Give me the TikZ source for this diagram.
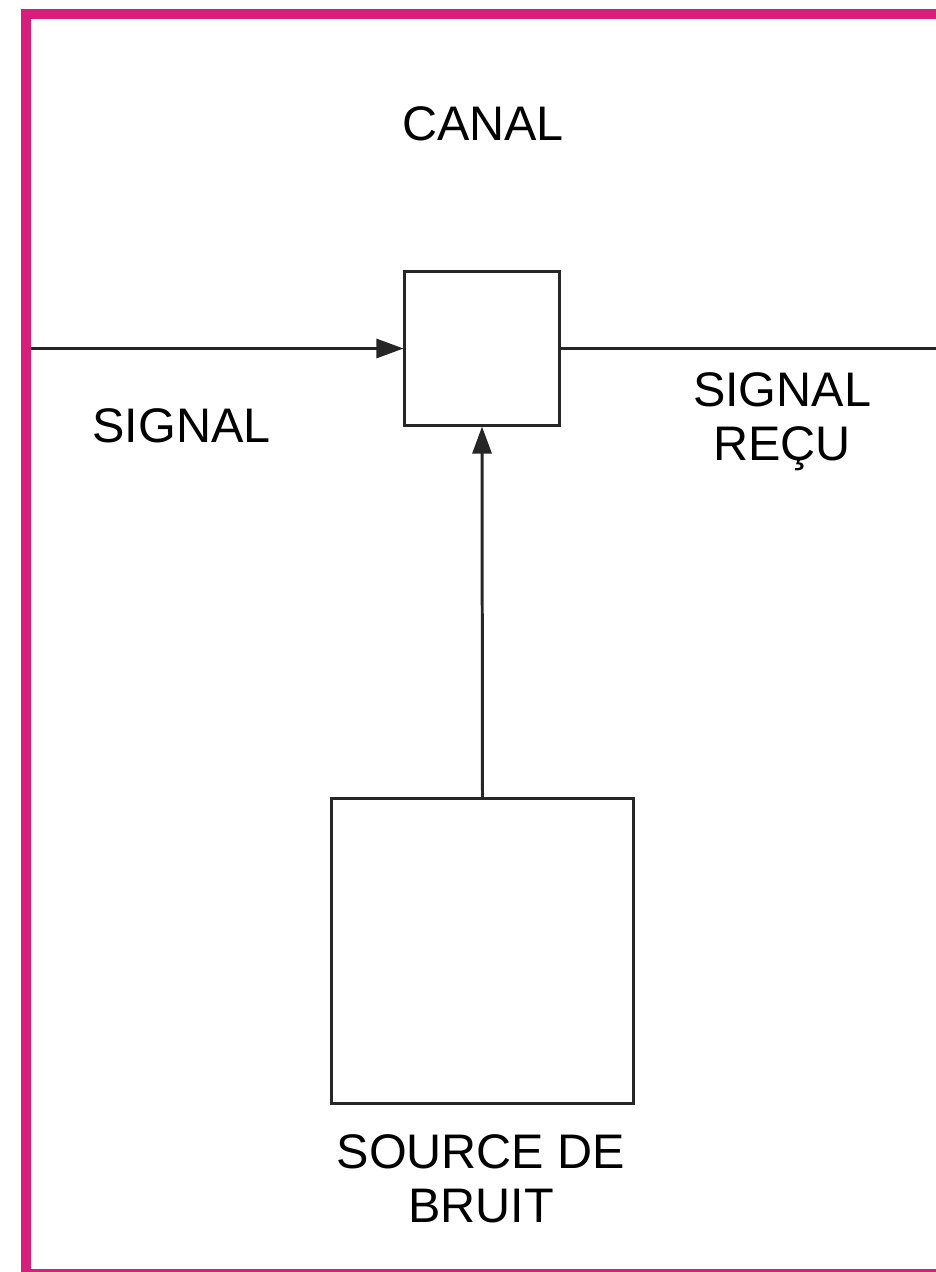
\documentclass[tikz,border=0pt]{standalone}
\usepackage{fontspec}
\setmainfont{Liberation Sans}
\usetikzlibrary{arrows.meta}
\definecolor{framepink}{RGB}{214,30,122}
\begin{document}
\begin{tikzpicture}[x=0.01cm,y=-0.01cm,
  block/.style={draw=black!85, line width=0.85pt, fill=white, inner sep=0pt},
  wire/.style={draw=black!85, line width=0.85pt},
  tip/.style={-{Triangle[length=0.27cm,width=0.19cm]}},
  lbl/.style={font=\fontsize{13.8}{15.1}\selectfont, inner sep=0pt, align=center, anchor=base}]
  \useasboundingbox (0,0) rectangle (936,1272);
  \clip (0,0) rectangle (936,1272);
  \fill[white] (0,0) rectangle (936,1272);
  % outer frame
  \draw[framepink, line width=0.1cm] (26,14) rectangle (960,1274);

  % channel and noise source
  \node[block, minimum width=1.54cm, minimum height=1.53cm] (canal) at (482,348.5) {};
  \node[block, minimum width=3.01cm, minimum height=3.04cm] (bruit) at (482.5,951) {};

  \coordinate (in) at (31,348.5);
  \coordinate (out) at (940,348.5);

  \draw[wire, tip] (in) -- (canal.west);
  \draw[wire] (canal.east) -- (out);
  \draw[wire, tip] (bruit.north) -- (canal.south);

  % labels (base anchor sits on the last line)
  \node[lbl] (tcanal) at (483,140) {CANAL};
  \node[lbl] (tsignal) at (181.5,442) {SIGNAL};
  \node[lbl] (trecu) at (782,460) {SIGNAL\\REÇU};
  \node[lbl] (tsource) at (481,1222) {SOURCE DE\\BRUIT};
\end{tikzpicture}
\end{document}
